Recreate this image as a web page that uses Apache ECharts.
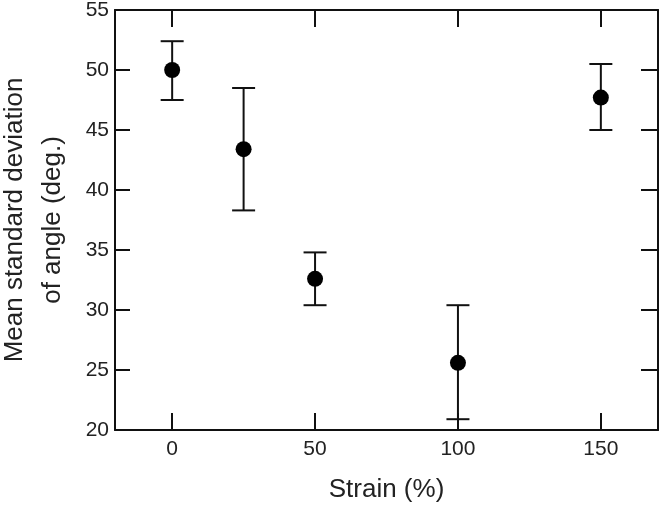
<!DOCTYPE html>
<html>
<head>
<meta charset="utf-8">
<script src="https://cdn.jsdelivr.net/npm/echarts@6/dist/echarts.min.js"></script>
<style>
	html, body { margin: 0; padding: 0; background: #fff; }
	#main { width: 660px; height: 507px; }
</style>
</head>
<body>
<div id="main"></div>
<script>
// data
var strain = [0, 25, 50, 100, 150];
var meanSd = [50.0, 43.4, 32.6, 25.6, 47.7];
var errLow = [47.5, 38.3, 30.4, 20.9, 45.0];
var errHigh = [52.4, 48.5, 34.8, 30.4, 50.5];
var xTicks = [0, 50, 100, 150];

var font = 'Liberation Sans, Arial, sans-serif';

var points = [];
var bars = [];
for (var i = 0; i < strain.length; i++) {
	points.push([strain[i], meanSd[i]]);
	bars.push([strain[i], errLow[i], errHigh[i]]);
}

var tickStyle = { color : '#111', width : 2 };
var lineStyle = { color : '#111', width : 2 };

var myChart = echarts.init(document.getElementById('main'));
var option = {
	animation : false,
	backgroundColor : '#fff',
	grid : {
		left : 115,
		top : 10,
		right : 2,
		bottom : 77,
		containLabel : false,
		outerBoundsMode : 'none'
	},
	xAxis : [ {
		type : 'value',
		min : -20,
		max : 170,
		position : 'bottom',
		name : 'Strain (%)',
		nameLocation : 'middle',
		nameGap : 47,
		nameTextStyle : { fontFamily : font, fontSize : 26, color : '#222' },
		axisLine : { show : true, onZero : false, lineStyle : lineStyle },
		axisTick : { show : true, inside : true, length : 17, lineStyle : tickStyle, customValues : xTicks },
		axisLabel : { fontFamily : font, fontSize : 21, color : '#222', margin : 9, customValues : xTicks },
		splitLine : { show : false }
	}, {
		type : 'value',
		min : -20,
		max : 170,
		position : 'top',
		axisLine : { show : true, onZero : false, lineStyle : lineStyle },
		axisTick : { show : true, inside : true, length : 17, lineStyle : tickStyle, customValues : xTicks },
		axisLabel : { show : false },
		splitLine : { show : false }
	} ],
	yAxis : [ {
		type : 'value',
		min : 20,
		max : 55,
		interval : 5,
		position : 'left',
		name : 'Mean standard deviation\nof angle (deg.)',
		nameLocation : 'middle',
		nameRotate : 90,
		nameGap : 43,
		nameTextStyle : { fontFamily : font, fontSize : 26, color : '#222', lineHeight : 38 },
		axisLine : { show : true, onZero : false, lineStyle : lineStyle },
		axisTick : { show : true, inside : true, length : 15, lineStyle : tickStyle },
		axisLabel : { fontFamily : font, fontSize : 21, color : '#222', margin : 6 },
		splitLine : { show : false }
	}, {
		type : 'value',
		min : 20,
		max : 55,
		interval : 5,
		position : 'right',
		axisLine : { show : true, onZero : false, lineStyle : lineStyle },
		axisTick : { show : true, inside : true, length : 17, lineStyle : tickStyle },
		axisLabel : { show : false },
		splitLine : { show : false }
	} ],
	series : [ {
		name : 'err',
		type : 'custom',
		xAxisIndex : 0,
		yAxisIndex : 0,
		data : bars,
		renderItem : function(params, api) {
			var x = api.value(0);
			var lo = api.coord([x, api.value(1)]);
			var hi = api.coord([x, api.value(2)]);
			var half = 11.5;
			var st = { stroke : '#111', lineWidth : 2, fill : null };
			return {
				type : 'group',
				children : [
					{ type : 'line', shape : { x1 : lo[0], y1 : lo[1], x2 : hi[0], y2 : hi[1] }, style : st },
					{ type : 'line', shape : { x1 : lo[0] - half, y1 : lo[1], x2 : lo[0] + half, y2 : lo[1] }, style : st },
					{ type : 'line', shape : { x1 : hi[0] - half, y1 : hi[1], x2 : hi[0] + half, y2 : hi[1] }, style : st }
				]
			};
		},
		z : 2
	}, {
		name : 'mean',
		type : 'scatter',
		xAxisIndex : 0,
		yAxisIndex : 0,
		data : points,
		symbol : 'circle',
		symbolSize : 16,
		itemStyle : { color : '#000', opacity : 1 },
		z : 3
	} ]
};
myChart.setOption(option);
</script>
</body>
</html>
